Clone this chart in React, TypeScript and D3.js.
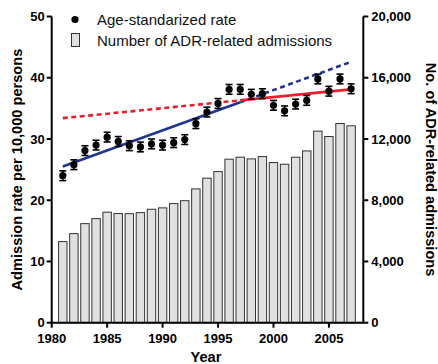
import React from "react";
import * as d3 from "d3";

// Yearly series
const years = [1981, 1982, 1983, 1984, 1985, 1986, 1987, 1988, 1989, 1990, 1991, 1992, 1993, 1994,
  1995, 1996, 1997, 1998, 1999, 2000, 2001, 2002, 2003, 2004, 2005, 2006, 2007];
const admissions = [5300, 5820, 6470, 6800, 7220, 7130, 7120, 7190, 7410, 7500, 7780, 7970, 8740, 9440,
  9870, 10680, 10810, 10700, 10850, 10460, 10350, 10810, 11220, 12510, 12160, 13010, 12860];
const rates = [24.0, 25.8, 28.1, 29.0, 30.3, 29.6, 28.9, 28.7, 29.2, 29.0, 29.4, 29.9, 32.5, 34.4,
  35.8, 38.1, 38.1, 37.3, 37.4, 35.5, 34.6, 35.7, 36.3, 39.8, 37.8, 39.8, 38.2];
const rateErrors = [0.6, 0.6, 0.6, 0.6, 0.6, 0.6, 0.6, 0.6, 0.6, 0.6, 0.6, 0.6, 0.6, 0.6,
  0.6, 0.6, 0.6, 0.6, 0.6, 0.6, 0.6, 0.6, 0.6, 0.6, 0.6, 0.6, 0.6];

// Fitted trends: early-period fit (blue) and late-period fit (red), split at the breakpoint
const breakYear = 1997;
const blueTrendYears = [1981, 1997, 2007];
const blueTrendRates = [25.5, 36.0, 42.6];
const redTrendYears = [1981, 1997, 2007];
const redTrendRates = [33.4, 36.3, 38.1];

// Axis ticks
const yearTicks = [1980, 1985, 1990, 1995, 2000, 2005];
const rateTicks = [0, 10, 20, 30, 40, 50];
const countTicks = [0, 4000, 8000, 12000, 16000, 20000];

const legendLabels = ["Age-standarized rate", "Number of ADR-related admissions"];
const xTitle = "Year";
const yLeftTitle = "Admission rate per 10,000 persons";
const yRightTitle = "No. of ADR-related admissions";

const W = 438;
const H = 364;
const FONT = "'Liberation Sans', Arial, Helvetica, sans-serif";
const BLUE = "#1f3591";
const RED = "#e8202e";

export default function App() {
  const x = d3.scaleLinear().domain([1980, 2008.1]).range([51.7, 363.3]);
  const yL = d3.scaleLinear().domain([0, 50]).range([322.7, 16.5]);
  const yR = d3.scaleLinear().domain([0, 20000]).range([322.7, 16.5]);
  const step = x(1981) - x(1980);
  const barW = step * 0.76;
  const fmt = d3.format(",");

  const line = d3
    .line<[number, number]>()
    .x((d) => x(d[0]))
    .y((d) => yL(d[1]));

  const seg = (ys: number[], rs: number[], early: boolean): [number, number][] =>
    ys
      .map((yr, i) => [yr, rs[i]] as [number, number])
      .filter((d) => (early ? d[0] <= breakYear : d[0] >= breakYear));

  const x0 = x.range()[0];
  const x1 = x.range()[1];
  const y0 = yL(0);
  const yTop = yL(50);

  return (
    <svg
      width={W}
      height={H}
      style={{ position: "absolute", left: 0, top: 0, background: "#fff" }}
      fontFamily={FONT}
    >
      {/* bars: admissions count on right axis */}
      {years.map((yr, i) => (
        <rect
          key={"b" + yr}
          x={x(yr) - barW / 2}
          y={yR(admissions[i])}
          width={barW}
          height={y0 - yR(admissions[i])}
          fill="#e0e0e0"
          stroke="#333"
          strokeWidth={1}
        />
      ))}

      {/* trend lines */}
      <path d={line(seg(redTrendYears, redTrendRates, true)) || ""} fill="none" stroke={RED} strokeWidth={2.6} strokeDasharray="5,3.5" />
      <path d={line(seg(blueTrendYears, blueTrendRates, false)) || ""} fill="none" stroke={BLUE} strokeWidth={2.6} strokeDasharray="5,3.5" />
      <path d={line(seg(blueTrendYears, blueTrendRates, true)) || ""} fill="none" stroke={BLUE} strokeWidth={2.6} />
      <path d={line(seg(redTrendYears, redTrendRates, false)) || ""} fill="none" stroke={RED} strokeWidth={2.6} />

      {/* rate points with error bars */}
      {years.map((yr, i) => {
        const cx = x(yr);
        const hi = yL(rates[i] + rateErrors[i]);
        const lo = yL(rates[i] - rateErrors[i]);
        return (
          <g key={"p" + yr}>
            <line x1={cx} x2={cx} y1={hi - 1.2} y2={lo + 1.2} stroke="#000" strokeWidth={1.5} />
            <line x1={cx - 3.5} x2={cx + 3.5} y1={hi - 1.2} y2={hi - 1.2} stroke="#000" strokeWidth={1.6} />
            <line x1={cx - 3.5} x2={cx + 3.5} y1={lo + 1.2} y2={lo + 1.2} stroke="#000" strokeWidth={1.6} />
            <circle cx={cx} cy={yL(rates[i])} r={3.6} fill="#000" />
          </g>
        );
      })}

      {/* axes */}
      <g stroke="#000" strokeWidth={2} fill="none">
        <line x1={x0} x2={x1} y1={y0} y2={y0} />
        <line x1={x0} x2={x0} y1={yTop} y2={y0 + 1} />
        <line x1={x1} x2={x1} y1={yTop} y2={y0 + 1} />
        {rateTicks.map((t) => (
          <line key={"lt" + t} x1={x0 - 5} x2={x0} y1={yL(t)} y2={yL(t)} />
        ))}
        {countTicks.map((t) => (
          <line key={"rt" + t} x1={x1} x2={x1 + 5} y1={yR(t)} y2={yR(t)} />
        ))}
        {yearTicks.map((t) => (
          <line key={"xt" + t} x1={x(t)} x2={x(t)} y1={y0} y2={y0 + 5} />
        ))}
      </g>

      <g fontSize={13} fontWeight="bold" fill="#000">
        {rateTicks.map((t) => (
          <text key={"ll" + t} x={x0 - 7} y={yL(t)} dy="0.36em" textAnchor="end">
            {t}
          </text>
        ))}
        {countTicks.map((t) => (
          <text key={"rl" + t} x={x1 + 8} y={yR(t)} dy="0.36em" textAnchor="start">
            {fmt(t)}
          </text>
        ))}
        {yearTicks.map((t) => (
          <text key={"xl" + t} x={x(t)} y={y0 + 19.8} textAnchor="middle">
            {t}
          </text>
        ))}
      </g>

      {/* axis titles */}
      <g fontSize={14.6} fontWeight="bold" fill="#000">
        <text x={206} y={362} textAnchor="middle">{xTitle}</text>
        <text transform={`translate(21.5,${(y0 + yTop) / 2}) rotate(-90)`} textAnchor="middle">
          {yLeftTitle}
        </text>
        <text transform={`translate(425.5,${(y0 + yTop) / 2}) rotate(90)`} textAnchor="middle">
          {yRightTitle}
        </text>
      </g>

      {/* legend */}
      <g fontSize={15} fill="#111">
        <circle cx={75} cy={19.5} r={3.6} fill="#000" />
        <text x={97} y={19.5} dy="0.35em">{legendLabels[0]}</text>
        <rect x={71.5} y={33.5} width={8} height={13} fill="#e0e0e0" stroke="#333" strokeWidth={1} />
        <text x={97} y={40.5} dy="0.35em">{legendLabels[1]}</text>
      </g>
    </svg>
  );
}
